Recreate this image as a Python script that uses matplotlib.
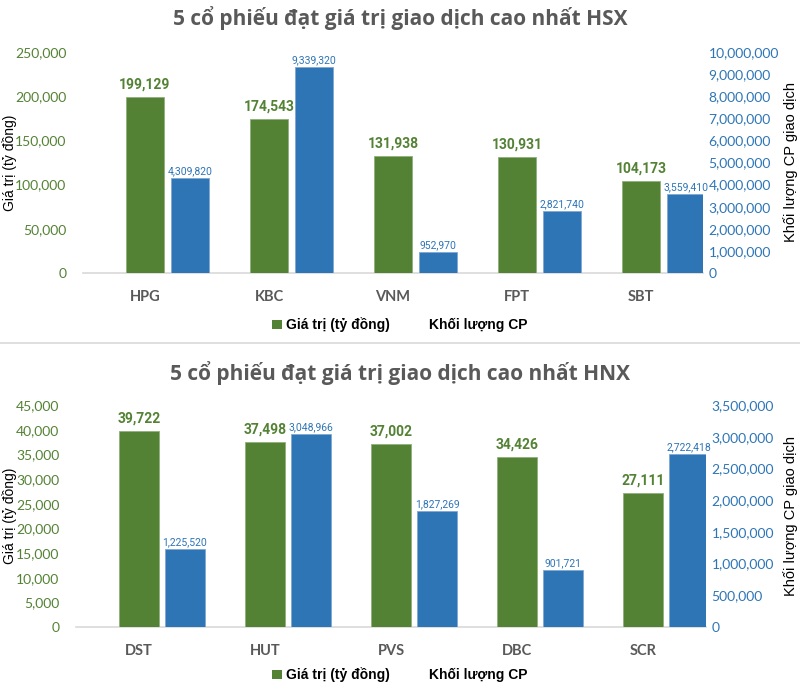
import matplotlib
matplotlib.use("Agg")
import matplotlib.pyplot as plt
from matplotlib.patches import Patch
from matplotlib.lines import Line2D
import numpy as np

# data
hsx_codes = ["HPG", "KBC", "VNM", "FPT", "SBT"]
hsx_value = [199129, 174543, 131938, 130931, 104173]
hsx_volume = [4309820, 9339320, 952970, 2821740, 3559410]

hnx_codes = ["DST", "HUT", "PVS", "DBC", "SCR"]
hnx_value = [39722, 37498, 37002, 34426, 27111]
hnx_volume = [1225520, 3048966, 1827269, 901721, 2722418]

GREEN = "#548235"
BLUE = "#2E75B6"
GRAY = "#595959"
ARIAL = ["Liberation Sans", "DejaVu Sans"]
NARROW = ["Roboto", "DejaVu Sans"]

plt.rcParams["font.family"] = ["Lato", "DejaVu Sans"]

fig = plt.figure(figsize=(8, 6.86), dpi=100)


def draw(rect, codes, value, volume, vmax, vstep, wmax, wstep, title, title_y, legend_y):
    ax = fig.add_axes(rect)
    ax2 = ax.twinx()
    x = np.arange(len(codes))
    w = 0.31
    ax.bar(x, value, w, color=GREEN, edgecolor="#8fb07a", linewidth=0.6, zorder=3)
    ax2.bar(x + 0.365, volume, w, color=BLUE, edgecolor="#7fa8d4", linewidth=0.6, zorder=3)

    # data labels
    for xi, v in zip(x, value):
        ax.text(xi, v + vmax * 0.025, f"{v:,}", ha="center", va="bottom",
                color=GREEN, fontsize=10, fontweight="bold", family=NARROW)
    for xi, v in zip(x, volume):
        ax2.text(xi + 0.365, v + wmax * 0.008, f"{v:,}", ha="center", va="bottom",
                 color=BLUE, fontsize=7.5, family=NARROW)

    ax.set_xlim(-0.5, len(codes) - 0.5)
    ax.set_ylim(0, vmax)
    ax2.set_ylim(0, wmax)
    ax.set_yticks(np.arange(0, vmax + 1, vstep))
    ax2.set_yticks(np.arange(0, wmax + 1, wstep))
    ax.set_yticklabels([f"{int(t):,}" for t in ax.get_yticks()], color=GREEN, fontsize=10)
    ax2.set_yticklabels([f"{int(t):,}" for t in ax2.get_yticks()], color=BLUE, fontsize=10)
    ax.set_xticks(x)
    ax.set_xticklabels(codes, color=GRAY, fontsize=10.5, fontweight="bold")

    for a in (ax, ax2):
        for s in a.spines.values():
            s.set_visible(False)
        a.tick_params(length=0)
    ax.spines["bottom"].set_visible(True)
    ax.spines["bottom"].set_color("#d9d9d9")
    ax.spines["bottom"].set_linewidth(1.2)
    ax.tick_params(axis="x", pad=12)
    ax.tick_params(axis="y", pad=12)
    ax2.tick_params(axis="y", pad=4)

    yc = rect[1] + rect[3] / 2
    fig.text(10 / 800, yc, "Giá trị (tỷ đồng)", rotation=90, ha="center", va="center",
             family=ARIAL, fontsize=10, color="black")
    fig.text(791 / 800, yc, "Khối lượng CP giao dịch", rotation=90, ha="center", va="center",
             family=ARIAL, fontsize=10.5, color="black")

    fig.text(0.5, title_y, title, ha="center", va="center", fontsize=15,
             fontweight="bold", color=GRAY, family=["Open Sans", "DejaVu Sans"])

    handles = [Patch(facecolor=GREEN), Patch(facecolor="none", edgecolor="none")]
    fig.legend(handles, ["Giá trị (tỷ đồng)", "Khối lượng CP"], loc="center",
               bbox_to_anchor=(0.5, legend_y), ncol=2, frameon=False,
               prop={"family": ARIAL, "weight": "bold", "size": 10},
               handlelength=0.7, handleheight=0.7, handletextpad=0.3, columnspacing=1.8)
    return ax


draw([83 / 800, 413 / 686, 620 / 800, 221 / 686], hsx_codes, hsx_value, hsx_volume,
     250000, 50000, 10000000, 1000000,
     "5 cổ phiếu đạt giá trị giao dịch cao nhất HSX", 1 - 18 / 686, 1 - 325 / 686)

draw([76 / 800, 59 / 686, 630 / 800, 222 / 686], hnx_codes, hnx_value, hnx_volume,
     45000, 5000, 3500000, 500000,
     "5 cổ phiếu đạt giá trị giao dịch cao nhất HNX", 1 - 373 / 686, 1 - 675 / 686)

fig.add_artist(Line2D([0, 1], [1 - 343 / 686, 1 - 343 / 686], color="#d9d9d9", linewidth=1.2))

fig.savefig("out.png", dpi=100, facecolor="white")
